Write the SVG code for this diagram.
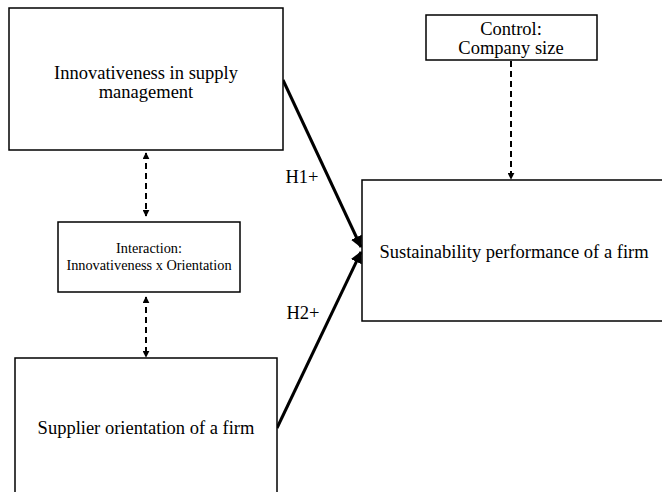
<svg xmlns="http://www.w3.org/2000/svg" width="662" height="492" viewBox="0 0 662 492">
<style>
.box{fill:#fff;stroke:#000;stroke-width:1.5}
text{font-family:'Liberation Serif','DejaVu Serif','Times New Roman',serif;fill:#000;text-anchor:middle}
.big{font-size:18.5px}
.small{font-size:14.3px}
.solid{stroke:#000;stroke-width:3;fill:none}
.dash{stroke:#000;stroke-width:2;stroke-dasharray:6,4;fill:none}
</style>
<defs>
<marker id="ah" viewBox="0 0 10 10" refX="9" refY="5" markerWidth="4" markerHeight="4" orient="auto" markerUnits="strokeWidth">
<path d="M0,0 L10,5 L0,10 z" fill="#000"/>
</marker>
<marker id="ahs" viewBox="0 0 10 10" refX="9" refY="5" markerWidth="3.5" markerHeight="3.5" orient="auto-start-reverse" markerUnits="strokeWidth">
<path d="M0,0 L10,5 L0,10 z" fill="#000"/>
</marker>
</defs>
<rect width="662" height="492" fill="#fff"/>
<g id="connectors">
<line class="solid" x1="283" y1="80" x2="361" y2="247" marker-end="url(#ah)"/>
<line class="solid" x1="277" y1="428" x2="361" y2="252" marker-end="url(#ah)"/>
<line class="dash" x1="146" y1="153" x2="146" y2="216" marker-start="url(#ahs)" marker-end="url(#ahs)"/>
<line class="dash" x1="146" y1="297" x2="146" y2="357" marker-start="url(#ahs)" marker-end="url(#ahs)"/>
<line class="dash" x1="511" y1="61" x2="511" y2="179" marker-end="url(#ahs)"/>
<text class="big" x="302" y="183">H1+</text>
<text class="big" x="303" y="319">H2+</text>
</g>
<g id="innovativeness">
<rect class="box" x="9" y="8" width="274" height="142"/>
<text class="big" x="146" y="79">Innovativeness in supply</text>
<text class="big" x="146" y="98">management</text>
</g>
<g id="interaction">
<rect class="box" x="58" y="222" width="182" height="70"/>
<text class="small" x="149" y="253">Interaction:</text>
<text class="small" x="149" y="270">Innovativeness x Orientation</text>
</g>
<g id="supplier">
<rect class="box" x="15" y="358" width="262" height="150"/>
<text class="big" x="146" y="434">Supplier orientation of a firm</text>
</g>
<g id="control">
<rect class="box" x="426" y="15" width="171" height="45"/>
<text class="big" x="511" y="35">Control:</text>
<text class="big" x="511" y="54">Company size</text>
</g>
<g id="sustainability">
<rect class="box" x="362" y="180" width="310" height="141"/>
<text class="big" x="514" y="258">Sustainability performance of a firm</text>
</g>
</svg>
